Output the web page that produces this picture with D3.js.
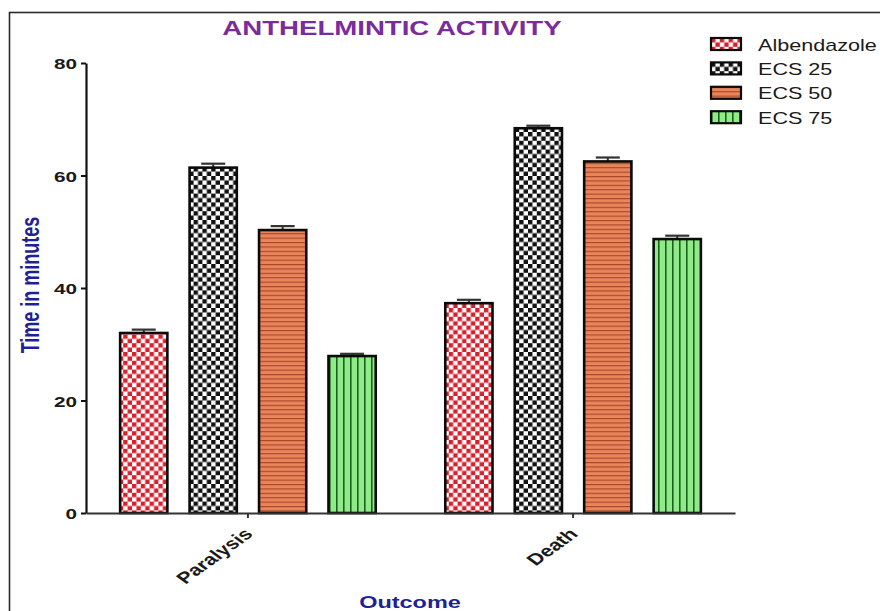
<!DOCTYPE html>
<html>
<head>
<meta charset="utf-8">
<script src="https://cdn.jsdelivr.net/npm/d3@7/dist/d3.min.js"></script>
<style>
  html, body { margin: 0; padding: 0; background: #fff; }
  svg { display: block; font-family: "Liberation Sans", Arial, sans-serif; }
</style>
</head>
<body>
<svg id="chart" width="880" height="611"></svg>
<script>
// ---- data ----
const categories = ["Paralysis", "Death"];
const seriesNames = ["Albendazole", "ECS 25", "ECS 50", "ECS 75"];
const albendazole = [32.0, 37.3];
const ecs25 = [61.4, 68.4];
const ecs50 = [50.3, 62.5];
const ecs75 = [27.9, 48.7];
const albendazoleErr = [0.6, 0.6];
const ecs25Err = [0.7, 0.45];
const ecs50Err = [0.7, 0.7];
const ecs75Err = [0.4, 0.6];
const yTicks = [0, 20, 40, 60, 80];
const titleText = "ANTHELMINTIC ACTIVITY";
const yLabel = "Time in minutes";
const xLabel = "Outcome";

const seriesValues = [albendazole, ecs25, ecs50, ecs75];
const seriesErrors = [albendazoleErr, ecs25Err, ecs50Err, ecs75Err];
const patternIds = ["pAlb", "pE25", "pE50", "pE75"];

const SX = 1.38; // horizontal stretch of the original picture
const svg = d3.select("#chart");

// ---- patterns ----
const defs = svg.append("defs");
function checker(id, color) {
  const s = 4.4;
  const p = defs.append("pattern").attr("id", id).attr("patternUnits", "userSpaceOnUse")
    .attr("width", 2 * s).attr("height", 2 * s);
  p.append("rect").attr("width", 2 * s).attr("height", 2 * s).attr("fill", "#fff");
  p.append("rect").attr("x", 0).attr("y", 0).attr("width", s).attr("height", s).attr("fill", color);
  p.append("rect").attr("x", s).attr("y", s).attr("width", s).attr("height", s).attr("fill", color);
}
checker("pAlb", "#d8202c");
checker("pE25", "#111");
{
  const p = defs.append("pattern").attr("id", "pE50").attr("patternUnits", "userSpaceOnUse")
    .attr("width", 10).attr("height", 4.4);
  p.append("rect").attr("width", 10).attr("height", 4.4).attr("fill", "#e8855a");
  p.append("rect").attr("y", 0).attr("width", 10).attr("height", 1.1).attr("fill", "#a9452a");
}
{
  const p = defs.append("pattern").attr("id", "pE75").attr("patternUnits", "userSpaceOnUse")
    .attr("width", 7).attr("height", 10);
  p.append("rect").attr("width", 7).attr("height", 10).attr("fill", "#8fea88");
  p.append("rect").attr("x", 0).attr("width", 1.6).attr("height", 10).attr("fill", "#1f5f1f");
}

// ---- frame ----
svg.append("rect").attr("x", 9.5).attr("y", 12.5).attr("width", 900).attr("height", 700)
  .attr("fill", "none").attr("stroke", "#2a2a2a").attr("stroke-width", 1.6);

// ---- scales ----
const x0 = d3.scaleBand().domain(categories).range([86, 735])
  .paddingInner(0.214).paddingOuter(0.105);
const x1 = d3.scaleBand().domain(seriesNames).range([0, x0.bandwidth()])
  .paddingInner(0.32).paddingOuter(0);
const y = d3.scaleLinear().domain([0, 80]).range([513, 63]);

// ---- bars ----
const barData = [];
categories.forEach((c, ci) => {
  seriesNames.forEach((s, si) => {
    barData.push({ cat: c, ser: s, si, v: seriesValues[si][ci], e: seriesErrors[si][ci] });
  });
});

const g = svg.append("g");
// error bars
g.selectAll(".err").data(barData).join("g").attr("class", "err").each(function (d) {
  const cx = x0(d.cat) + x1(d.ser) + x1.bandwidth() / 2;
  const sel = d3.select(this);
  sel.append("line").attr("x1", cx).attr("x2", cx).attr("y1", y(d.v)).attr("y2", y(d.v + d.e))
    .attr("stroke", "#333").attr("stroke-width", 2);
  sel.append("line").attr("x1", cx - 12).attr("x2", cx + 12).attr("y1", y(d.v + d.e)).attr("y2", y(d.v + d.e))
    .attr("stroke", "#333").attr("stroke-width", 2.2);
});
g.selectAll(".bar").data(barData).join("rect").attr("class", "bar")
  .attr("x", d => x0(d.cat) + x1(d.ser))
  .attr("y", d => y(d.v))
  .attr("width", x1.bandwidth())
  .attr("height", d => y(0) - y(d.v))
  .attr("fill", d => `url(#${patternIds[d.si]})`)
  .attr("stroke", "#0a0a0a").attr("stroke-width", 2.6);

// ---- axes ----
const yAxis = svg.append("g").attr("transform", "translate(86,0)")
  .call(d3.axisLeft(y).tickValues(yTicks).tickSize(5).tickSizeOuter(0).tickFormat(d3.format("d")));
yAxis.select(".domain").attr("stroke", "#111").attr("stroke-width", 2.2);
yAxis.selectAll(".tick line").attr("stroke", "#111").attr("stroke-width", 2);
yAxis.selectAll(".tick text").attr("x", null).attr("dy", null)
  .attr("transform", "translate(-9,5.5) scale(" + SX + ",1)")
  .attr("font-size", 15).attr("font-weight", "bold").attr("fill", "#1a1a1a")
  .attr("font-family", "Liberation Sans, Arial, sans-serif");

const xAxis = svg.append("g").attr("transform", "translate(0,513)")
  .call(d3.axisBottom(x0).tickSize(5).tickSizeOuter(0));
xAxis.select(".domain").attr("stroke", "#333").attr("stroke-width", 2);
xAxis.selectAll(".tick line").attr("stroke", "#333").attr("stroke-width", 2);
xAxis.selectAll(".tick text").attr("y", null).attr("dy", null)
  .attr("text-anchor", "end")
  .attr("transform", "translate(6,22) scale(" + SX + ",1) rotate(-45)")
  .attr("font-size", 16).attr("font-weight", "bold").attr("fill", "#1a1a1a")
  .attr("font-family", "Liberation Sans, Arial, sans-serif");

// ---- titles ----
svg.append("text").attr("text-anchor", "middle")
  .attr("transform", "translate(392,35) scale(" + SX + ",1)")
  .attr("font-size", 20).attr("font-weight", "bold").attr("fill", "#7a2b9c")
  .text(titleText);
svg.append("text").attr("text-anchor", "middle")
  .attr("transform", "translate(39,285) scale(" + SX + ",1) rotate(-90)")
  .attr("font-size", 18).attr("font-weight", "bold").attr("fill", "#1f1f96")
  .text(yLabel);
svg.append("text").attr("text-anchor", "middle")
  .attr("transform", "translate(410,608) scale(" + SX + ",1)")
  .attr("font-size", 17).attr("font-weight", "bold").attr("fill", "#1f1f96")
  .text(xLabel);

// ---- legend ----
const legend = svg.append("g");
const leg = legend.selectAll("g").data(seriesNames).join("g")
  .attr("transform", (d, i) => `translate(711,${38 + i * 24.4})`);
leg.append("rect").attr("width", 30).attr("height", 12)
  .attr("fill", (d, i) => `url(#${patternIds[i]})`)
  .attr("stroke", "#0a0a0a").attr("stroke-width", 2.2);
leg.append("text")
  .attr("transform", "translate(47,12.5) scale(1.27,1)")
  .attr("font-size", 17).attr("fill", "#1a1a1a")
  .text(d => d);
</script>
</body>
</html>
